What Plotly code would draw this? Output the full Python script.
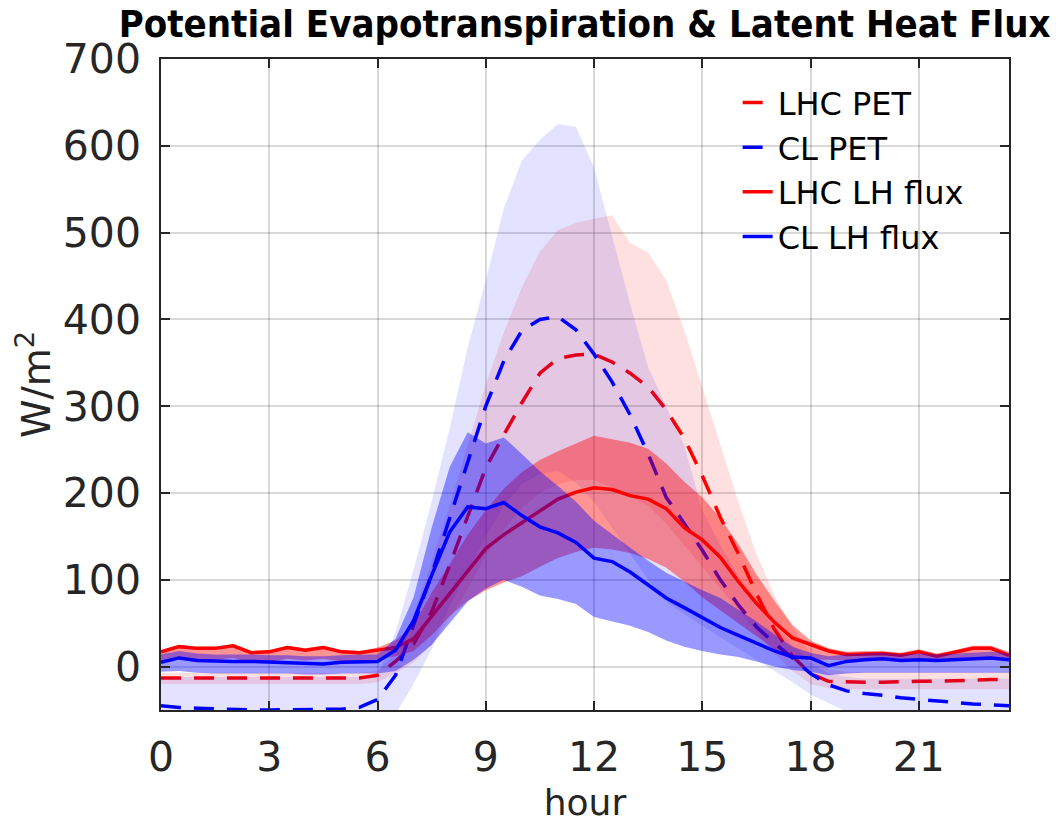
import plotly.graph_objects as go

hours = [0, 0.5, 1, 1.5, 2, 2.5, 3, 3.5, 4, 4.5, 5, 5.5, 6, 6.5, 7, 7.5, 8, 8.5, 9, 9.5,
         10, 10.5, 11, 11.5, 12, 12.5, 13, 13.5, 14, 14.5, 15, 15.5, 16, 16.5, 17, 17.5,
         18, 18.5, 19, 19.5, 20, 20.5, 21, 21.5, 22, 22.5, 23, 23.5]

lhc_pet = [-13, -13, -13, -13, -13, -13, -13, -13, -13, -13, -13, -13, -10, 6, 26, 63, 117, 174,
           229, 267, 304, 338, 355, 359, 360, 351, 338, 322, 296, 263, 220, 172, 130, 84, 43, 12,
           -8, -17, -18, -18, -18, -17, -17, -17, -16, -16, -15, -15]
lhc_pet_hi = [-7, -7, -7, -7, -7, -7, -7, -7, -7, -7, -7, -7, -5, 15, 60, 120, 185, 255,
              325, 385, 437, 478, 503, 511, 516, 520, 488, 477, 445, 388, 322, 255, 190, 130, 82, 45,
              15, -3, -6, -6, -6, -6, -6, -6, -6, -6, -6, -6]
lhc_pet_lo = [-20, -20, -20, -20, -20, -20, -20, -20, -20, -20, -20, -20, -18, -8, 5, 25, 55, 90,
              128, 158, 183, 200, 210, 215, 215, 207, 196, 185, 165, 140, 115, 90, 65, 40, 15, -5,
              -20, -25, -26, -26, -26, -26, -26, -26, -26, -26, -26, -26]

cl_pet = [-45, -47, -48, -49, -50, -50, -50, -50, -50, -49, -49, -47, -38, -10, 48, 106, 171, 237,
          300, 352, 387, 400, 403, 388, 360, 328, 290, 245, 195, 165, 134, 100, 71, 46, 27, 10,
          -8, -21, -28, -31, -33, -36, -38, -40, -42, -43, -44, -45]
cl_pet_hi = [-12, -12, -12, -12, -12, -12, -12, -12, -12, -12, -12, -12, -10, 40, 112, 190, 275, 368,
             445, 528, 583, 607, 625, 622, 575, 495, 418, 345, 300, 255, 180, 140, 105, 75, 45, 25,
             5, -8, -12, -14, -14, -14, -14, -14, -14, -14, -14, -14]
cl_pet_lo = [-85, -85, -85, -85, -85, -85, -85, -85, -85, -85, -85, -85, -75, -55, -20, 20, 70, 110,
             150, 185, 210, 222, 225, 212, 190, 160, 130, 100, 75, 60, 48, 35, 22, 8, -5, -18,
             -32, -42, -52, -65, -70, -75, -78, -80, -82, -84, -85, -85]

lhc_lh = [17, 23, 21, 21, 24, 16, 17, 22, 19, 22, 17, 16, 19, 22, 32, 58, 84, 110,
          136, 152, 166, 180, 193, 201, 206, 204, 197, 193, 182, 160, 146, 126, 98, 73, 51, 33,
          25, 18, 14, 15, 15, 13, 17, 12, 16, 21, 21, 13]
lhc_lh_hi = [19, 25, 23, 23, 26, 18, 19, 24, 21, 24, 19, 18, 22, 30, 48, 85, 118, 152,
             180, 205, 224, 238, 248, 257, 266, 262, 258, 251, 234, 213, 195, 171, 141, 106, 76, 48,
             30, 21, 17, 18, 18, 16, 20, 15, 19, 24, 24, 17]
lhc_lh_lo = [5, 9, 8, 8, 10, 5, 5, 9, 7, 9, 6, 5, 8, 12, 18, 36, 58, 76,
             88, 97, 104, 115, 125, 132, 137, 135, 131, 124, 114, 98, 80, 65, 50, 35, 20, 10,
             8, 8, 7, 8, 8, 7, 9, 7, 8, 10, 10, 8]

cl_lh = [5, 10, 7, 6, 6, 6, 5, 5, 4, 3, 5, 6, 6, 19, 53, 105, 155, 184,
         182, 189, 174, 161, 154, 143, 125, 121, 109, 94, 79, 68, 56, 45, 36, 27, 18, 11,
         10, 1, 6, 8, 9, 7, 8, 7, 8, 9, 10, 8]
cl_lh_hi = [14, 18, 15, 14, 14, 14, 13, 13, 12, 12, 13, 14, 14, 32, 80, 160, 230, 270,
            257, 264, 245, 225, 208, 190, 168, 152, 137, 122, 108, 98, 88, 79, 66, 52, 37, 23,
            16, 12, 14, 15, 16, 14, 15, 14, 15, 16, 17, 15]
cl_lh_lo = [-6, -5, -7, -8, -8, -8, -8, -8, -9, -9, -8, -8, -8, -5, 8, 25, 50, 75,
            90, 100, 92, 82, 78, 72, 57, 52, 47, 40, 30, 23, 18, 14, 11, 6, 0, -4,
            -6, -10, -8, -7, -7, -7, -7, -7, -7, -7, -7, -7]

RED = "#ff0000"
BLUE = "#0000ff"
LW = 3.5
DASH = "20px,13px"

fig = go.Figure()


def band(lo, hi, color):
    return go.Scatter(x=hours + hours[::-1], y=hi + lo[::-1], fill="toself",
                      fillcolor=color, line=dict(width=0), mode="lines",
                      showlegend=False, hoverinfo="skip")


fig.add_trace(band(lhc_pet_lo, lhc_pet_hi, "rgba(255,0,0,0.12)"))
fig.add_trace(go.Scatter(x=hours, y=lhc_pet, mode="lines", name="LHC PET",
                         line=dict(color=RED, width=LW, dash=DASH)))
fig.add_trace(band(cl_pet_lo, cl_pet_hi, "rgba(0,0,255,0.11)"))
fig.add_trace(go.Scatter(x=hours, y=cl_pet, mode="lines", name="CL PET",
                         line=dict(color=BLUE, width=LW, dash=DASH)))
fig.add_trace(band(lhc_lh_lo, lhc_lh_hi, "rgba(255,0,0,0.42)"))
fig.add_trace(go.Scatter(x=hours, y=lhc_lh, mode="lines", name="LHC LH flux",
                         line=dict(color=RED, width=LW)))
fig.add_trace(band(cl_lh_lo, cl_lh_hi, "rgba(0,0,255,0.40)"))
fig.add_trace(go.Scatter(x=hours, y=cl_lh, mode="lines", name="CL LH flux",
                         line=dict(color=BLUE, width=LW)))

axis_common = dict(
    showline=True, linecolor="#262626", linewidth=1.5, mirror="ticks",
    ticks="inside", ticklen=9, tickwidth=1.5, tickcolor="#262626",
    showgrid=True, gridcolor="rgba(0,0,0,0.15)", gridwidth=1.5,
    zeroline=False, tickfont=dict(family="DejaVu Sans", size=41, color="#262626"),
)

fig.update_xaxes(range=[0, 23.5], tickvals=[0, 3, 6, 9, 12, 15, 18, 21],
                 title=dict(text="hour", font=dict(family="DejaVu Sans", size=36, color="#262626"),
                            standoff=10),
                 ticklabelstandoff=10, **axis_common)
fig.update_yaxes(range=[-50, 700], tickvals=[0, 100, 200, 300, 400, 500, 600, 700],
                 title=dict(text="W/m<sup>2</sup>", font=dict(family="DejaVu Sans", size=39, color="#262626"),
                            standoff=0),
                 ticklabelstandoff=10, **axis_common)

fig.update_layout(
    width=1061, height=828,
    margin=dict(l=161, r=52, t=59, b=110),
    paper_bgcolor="white", plot_bgcolor="white",
    title=dict(text="<b>Potential Evapotranspiration & Latent Heat Flux</b>",
               font=dict(family="DejaVu Sans Condensed", size=38, color="#000000"),
               x=0.551, xanchor="center", y=0.987, yanchor="top", yref="container"),
    legend=dict(x=0.68, y=0.975, xanchor="left", yanchor="top",
                bgcolor="rgba(0,0,0,0)", borderwidth=0,
                font=dict(family="DejaVu Sans", size=32, color="#000000"),
                tracegroupgap=0),
    showlegend=True,
)

fig.write_html("out.html")
